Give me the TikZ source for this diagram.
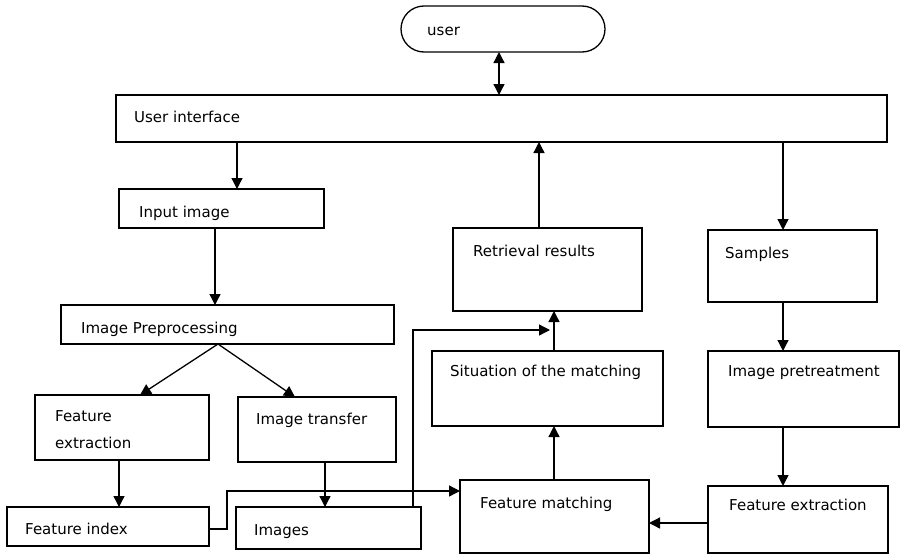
\documentclass[tikz,border=0pt]{standalone}
\usepackage{fontspec}
\setmainfont{DejaVu Sans}
\usetikzlibrary{arrows.meta}
\begin{document}
\begin{tikzpicture}[x=1pt,y=-1pt,
  box/.style={draw, line width=1.3pt, inner sep=0pt, outer sep=0pt, anchor=north west},
  lbl/.style={inner sep=0pt, anchor=base west, font=\fontsize{15}{18}\selectfont},
  ln/.style={line width=1.3pt},
  arr/.style={ln, -{Triangle[length=11pt,width=11pt]}},
  dbl/.style={ln, {Triangle[length=11pt,width=11pt]}-{Triangle[length=11pt,width=11pt]}}]
\useasboundingbox (0,0) rectangle (901,554);

% boxes
\node[box, rounded corners=23pt, minimum width=204pt, minimum height=46pt] (user) at (401,6) {};
\node[box, minimum width=771pt, minimum height=47pt] (ui)   at (116,95)  {};
\node[box, minimum width=205pt, minimum height=39pt] (inp)  at (119,189) {};
\node[box, minimum width=333pt, minimum height=39pt] (pre)  at (61,305)  {};
\node[box, minimum width=174pt, minimum height=65pt] (fea)  at (35,395)  {};
\node[box, minimum width=158pt, minimum height=65pt] (itr)  at (238,397) {};
\node[box, minimum width=202pt, minimum height=39pt] (fidx) at (7,507)   {};
\node[box, minimum width=185pt, minimum height=42pt] (imgs) at (236,507) {};
\node[box, minimum width=189pt, minimum height=83pt] (ret)  at (453,228) {};
\node[box, minimum width=169pt, minimum height=72pt] (smp)  at (708,230) {};
\node[box, minimum width=231pt, minimum height=75pt] (sit)  at (432,351) {};
\node[box, minimum width=191pt, minimum height=76pt] (ipt)  at (708,351) {};
\node[box, minimum width=189pt, minimum height=73pt] (fm)   at (460,480) {};
\node[box, minimum width=180pt, minimum height=67pt] (feb)  at (708,486) {};

% labels
\node[lbl] (tuser) at (427,35)  {user};
\node[lbl] (tui)   at (134,122) {User interface};
\node[lbl] (tinp)  at (139,217) {Input image};
\node[lbl] (tpre)  at (81,333)  {Image Preprocessing};
\node[lbl] (tfea1) at (55,421)  {Feature};
\node[lbl] (tfea2) at (55,448)  {extraction};
\node[lbl] (titr)  at (256,424) {Image transfer};
\node[lbl] (tfidx) at (25,534)  {Feature index};
\node[lbl] (timgs) at (254,535) {Images};
\node[lbl] (tret)  at (473,256) {Retrieval results};
\node[lbl] (tsmp)  at (725,258) {Samples};
\node[lbl] (tsit)  at (450,376) {Situation of the matching};
\node[lbl] (tipt)  at (728,376) {Image pretreatment};
\node[lbl] (tfm)   at (480,508) {Feature matching};
\node[lbl] (tfeb)  at (729,510) {Feature extraction};

% connector columns and rows
\coordinate (cu)  at (499,0);
\coordinate (ca)  at (237,0);
\coordinate (cb)  at (215,0);
\coordinate (cp)  at (218,0);
\coordinate (cf)  at (119,0);
\coordinate (ct)  at (325,0);
\coordinate (cr)  at (539,0);
\coordinate (cs)  at (783,0);
\coordinate (cm)  at (554,0);
\coordinate (cv)  at (413,0);
\coordinate (cj)  at (227,0);
\coordinate (rfi) at (0,529);
\coordinate (rfm) at (0,491);
\coordinate (rfe) at (0,523);
\coordinate (tip) at (550,330);

% connectors
\draw[dbl] (user.south -| cu) -- (ui.north -| cu);
\draw[arr] (ui.south -| ca) -- (inp.north -| ca);
\draw[arr] (inp.south -| cb) -- (pre.north -| cb);
\draw[arr] (pre.south -| cp) -- (140,395);
\draw[arr] (pre.south -| cp) -- (295,397);
\draw[arr] (fea.south -| cf) -- (fidx.north -| cf);
\draw[arr] (itr.south -| ct) -- (imgs.north -| ct);
\draw[arr] (fidx.east |- rfi) -| (cj |- rfm) -- (fm.west |- rfm);
\draw[arr] (imgs.north -| cv) |- (tip);
\draw[arr] (fm.north -| cm) -- (sit.south -| cm);
\draw[arr] (sit.north -| cm) -- (ret.south -| cm);
\draw[arr] (ret.north -| cr) -- (ui.south -| cr);
\draw[arr] (ui.south -| cs) -- (smp.north -| cs);
\draw[arr] (smp.south -| cs) -- (ipt.north -| cs);
\draw[arr] (ipt.south -| cs) -- (feb.north -| cs);
\draw[arr] (feb.west |- rfe) -- (fm.east |- rfe);
\end{tikzpicture}
\end{document}
